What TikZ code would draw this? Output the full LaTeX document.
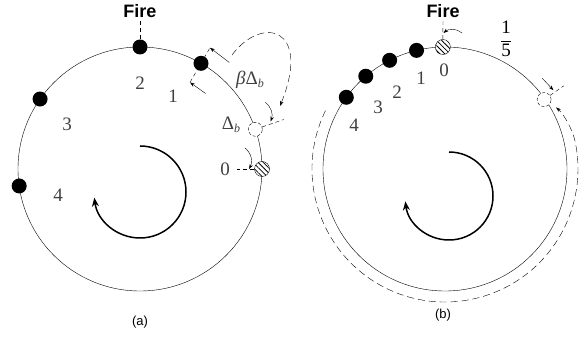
\documentclass[tikz,border=0pt]{standalone}
\usepackage{fontspec}
\setmainfont{Liberation Serif}
\setsansfont{Liberation Sans}
\usetikzlibrary{arrows.meta,patterns.meta}
\newcommand{\subb}{\raisebox{-0.35ex}{\fontsize{12}{12}\selectfont\itshape b}}

\begin{document}
\begin{tikzpicture}[x=1pt,y=1pt,
  dot/.style={circle,fill,inner sep=0pt,minimum size=15pt},
  hatched/.style={circle,draw,preaction={fill=white},pattern={Lines[angle=-45,distance=3.6pt,line width=0.8pt]},inner sep=0pt,minimum size=15pt},
  ghost/.style={circle,draw,dash pattern=on 3pt off 2pt,fill=white,inner sep=0pt,minimum size=14pt},
  num/.style={font=\fontsize{19}{21}\selectfont,text=black!75},
  fire/.style={font=\sffamily\bfseries\fontsize{18}{20}\selectfont},
  caption/.style={font=\sffamily\fontsize{13}{15}\selectfont},
  tick/.style={dash pattern=on 4pt off 3pt,thin},
  longdash/.style={dash pattern=on 7pt off 4pt,thin},
  nudge/.style={-{Stealth[length=5pt,width=3.5pt]},thin},
  spin/.style={line width=1.5pt,-{Stealth[length=9pt,width=7pt]}}]
\useasboundingbox (0,0) rectangle (583,337);
\begin{scope}[shift={(140,168)}]
\draw[thin] (0,0) circle[radius=122];
\node[fire] (fa) at (0,158) {Fire};
\node[dot] (a2) at (90:122) {};
\node[dot] (a1) at (60:122) {};
\node[dot] (a3) at (145:122) {};
\node[dot] (a4) at (188:122) {};
\node[ghost] (ag) at (19:122) {};
\node[hatched] (a0) at (0:122) {};
\draw[tick] (fa) -- (a2);
\node[num] (l2) at (0,86) {2};
\node[num] (l1) at (33,73) {1};
\node[num] (l3) at (-73,45) {3};
\node[num] (l4) at (-82,-26) {4};
\node[num] (l0) at (85,0) {0};
\node[num] (lb) at (110,89) {\textit{β}Δ\subb};
\node[num] (ld) at (91,44) {Δ\subb};
\coordinate (a1i) at (60:100);
\coordinate (a1o) at (60:140);
\coordinate (a1p) at (50:139);
\coordinate (a1q) at (49:100);
\draw[tick] (a1i) -- (a1o);
\draw[nudge] (a1p) -- (a1o);
\draw[nudge] (a1q) -- (a1i);
\coordinate (ago) at (19:152);
\coordinate (agn) at (28:142);
\coordinate (agm) at (20:139);
\draw[tick] (ag) -- (ago);
\draw[nudge] (agn) to[bend left=35] (agm);
\coordinate (jmpS) at (92,114);
\coordinate (jmpE) at (140,63);
\draw[nudge,longdash] (jmpS) .. controls (122,154) and (172,142) .. (jmpE);
\coordinate (a0i) at (0:97);
\coordinate (a0n) at (105,21);
\coordinate (a0m) at (109,0);
\draw[tick] (a0) -- (a0i);
\draw[nudge] (a0n) to[bend left=40] (a0m);
\draw[spin] (0,23) arc[start angle=90,end angle=-173,radius=46];
\node[caption] (capa) at (0,-153) {(a)};
\end{scope}
\begin{scope}[shift={(445,168)}]
\draw[thin] (0,0) circle[radius=122];
\node[fire] (fb) at (-2,158) {Fire};
\node[hatched] (b0) at (91:122) {};
\node[dot] (b1) at (103.5:122) {};
\node[dot] (b2) at (117:122) {};
\node[dot] (b3) at (130.5:122) {};
\node[dot] (b4) at (144:122) {};
\node[ghost] (bg) at (35:121) {};
\draw[tick] (fb) -- (b0);
\node[num] (m0) at (-1,99) {0};
\node[num] (m1) at (-24,91) {1};
\node[num] (m2) at (-48,77) {2};
\node[num] (m3) at (-67,62) {3};
\node[num] (m4) at (-91,44) {4};
\node[num,text=black] (frac) at (61,130) {$\displaystyle\frac{\mbox{1}}{\mbox{5}}$};
\coordinate (b0n) at (17,136);
\coordinate (b0m) at (-1.5,136);
\draw[nudge] (b0n) to[bend right=40] (b0m);
\coordinate (bgo) at (35:145);
\coordinate (bgn) at (43:133);
\coordinate (bgm) at (36:134);
\draw[tick] (bg) -- (bgo);
\draw[nudge] (bgn) -- (bgm);
\coordinate (backS) at (154:133);
\coordinate (backE) at (29:127);
\draw[nudge,longdash] (backS) arc[start angle=154,end angle=372,radius=133]
  .. controls (127.6,39.5) and (118.6,55.1) .. (backE);
\draw[spin] (4,17) arc[start angle=90,end angle=-173,radius=44];
\node[caption] (capb) at (-2,-146) {(b)};
\end{scope}
\end{tikzpicture}
\end{document}
